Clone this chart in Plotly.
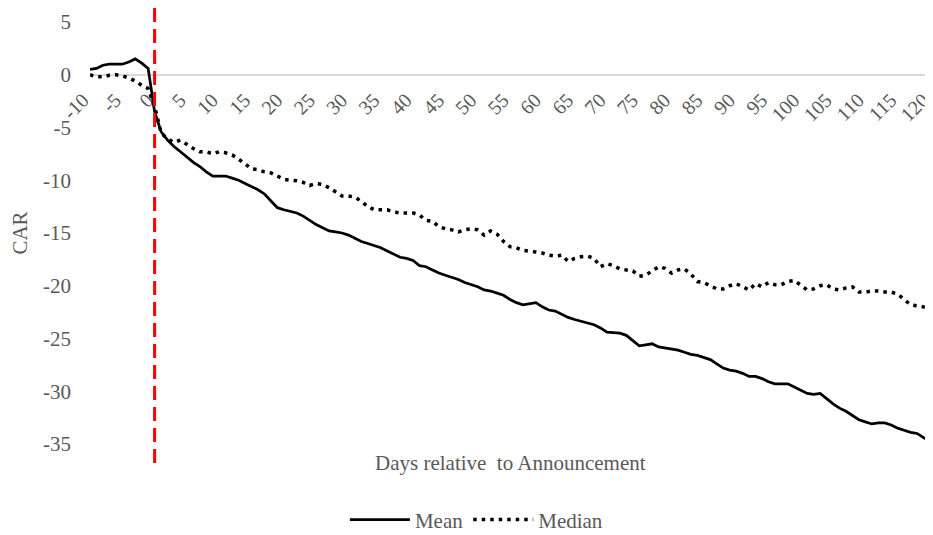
import plotly.graph_objects as go

days = list(range(-10, 121))

mean_car = [
    0.5, 0.6, 0.9, 1.0, 1.0, 1.0, 1.2, 1.5, 1.1, 0.6,          # -10..-1
    -3.5, -5.4, -6.2, -6.8, -7.3, -7.8, -8.3, -8.7, -9.2, -9.6,  # 0..9
    -9.6, -9.6, -9.8, -10.0, -10.3, -10.6, -10.9, -11.3, -12.0, -12.6,  # 10..19
    -12.8, -12.95, -13.1, -13.4, -13.8, -14.2, -14.5, -14.8, -14.9, -15.0,  # 20..29
    -15.2, -15.5, -15.8, -16.0, -16.2, -16.4, -16.7, -17.0, -17.3, -17.4,  # 30..39
    -17.6, -18.1, -18.2, -18.5, -18.8, -19.0, -19.2, -19.4, -19.7, -19.9,  # 40..49
    -20.1, -20.4, -20.5, -20.7, -20.9, -21.3, -21.6, -21.8, -21.7, -21.6,  # 50..59
    -22.0, -22.3, -22.4, -22.7, -23.0, -23.2, -23.35, -23.5, -23.7, -24.0,  # 60..69
    -24.4, -24.45, -24.5, -24.7, -25.2, -25.7, -25.6, -25.5, -25.8, -25.9,  # 70..79
    -26.0, -26.1, -26.3, -26.5, -26.6, -26.8, -27.0, -27.4, -27.8, -28.0,  # 80..89
    -28.1, -28.3, -28.6, -28.6, -28.8, -29.1, -29.3, -29.3, -29.3, -29.6,  # 90..99
    -29.9, -30.2, -30.3, -30.2, -30.7, -31.2, -31.6, -31.9, -32.3, -32.7,  # 100..109
    -32.9, -33.1, -33.0, -33.0, -33.2, -33.5, -33.7, -33.9, -34.0, -34.4,  # 110..119
    -34.7,                                                       # 120
]

median_car = [
    0.0, -0.2, -0.2, -0.05, 0.0, -0.1, -0.3, -0.6, -1.0, -1.3,   # -10..-1
    -3.0, -5.5, -6.1, -6.4, -6.2, -6.6, -7.0, -7.3, -7.3, -7.5,  # 0..9
    -7.3, -7.4, -7.6, -8.0, -8.5, -8.9, -9.0, -9.2, -9.3, -9.6,  # 10..19
    -9.9, -10.0, -10.05, -10.2, -10.5, -10.3, -10.4, -10.7, -11.1, -11.5,  # 20..29
    -11.5, -11.6, -12.0, -12.5, -12.8, -12.8, -12.8, -13.0, -13.1, -13.1,  # 30..39
    -13.1, -13.3, -13.8, -13.9, -14.4, -14.6, -14.7, -14.9, -14.7, -14.6,  # 40..49
    -14.7, -15.2, -14.8, -15.1, -15.8, -16.3, -16.4, -16.65, -16.7, -16.8,  # 50..59
    -16.9, -17.1, -17.2, -17.1, -17.7, -17.4, -17.25, -17.2, -17.4, -18.2,  # 60..69
    -17.9, -18.1, -18.4, -18.5, -18.6, -19.1, -19.0, -18.6, -18.2, -18.35,  # 70..79
    -18.8, -18.5, -18.4, -18.9, -19.6, -19.7, -20.0, -20.3, -20.3, -20.0,  # 80..89
    -19.8, -20.1, -20.4, -19.8, -20.1, -19.7, -19.9, -19.9, -19.6, -19.5,  # 90..99
    -20.0, -20.4, -20.3, -20.0, -19.9, -20.3, -20.4, -20.2, -20.1, -20.6,  # 100..109
    -20.6, -20.5, -20.5, -20.6, -20.6, -20.8, -21.3, -21.8, -21.9, -22.0,  # 110..119
    -22.2,                                                       # 120
]

x_tick_vals = list(range(-10, 121, 5))
x_tick_text = [str(v) for v in x_tick_vals]
y_tick_vals = [5, 0, -5, -10, -15, -20, -25, -30, -35]
y_tick_text = [str(v) for v in y_tick_vals]

FONT = "Liberation Serif"
GRAY = "#595959"

fig = go.Figure()
fig.add_trace(go.Scatter(
    x=days, y=mean_car, mode="lines", name="Mean",
    line=dict(color="black", width=2.75),
))
fig.add_trace(go.Scatter(
    x=days, y=median_car, mode="lines", name="Median",
    line=dict(color="black", width=3.5, dash="3.5px,5px"),
))

# event line at day 0
fig.add_shape(type="line", xref="x", yref="paper", x0=0, x1=0, y0=1.033, y1=-0.055,
              line=dict(color="#ff0000", width=3, dash="14px,7px"), layer="above")

fig.add_annotation(text="Days relative  to Announcement", xref="paper", yref="paper",
                   x=0.5, y=-0.012, xanchor="center", yanchor="top", showarrow=False,
                   font=dict(family=FONT, size=21, color=GRAY))

# page body has an 8px margin, so the figure is offset by 8px in the window
fig.update_layout(
    template="none",
    width=925, height=527,
    margin=dict(l=82, r=3, t=14, b=91, autoexpand=False),
    paper_bgcolor="white", plot_bgcolor="white",
    font=dict(family=FONT, size=21, color=GRAY),
    showlegend=True,
    legend=dict(orientation="h", x=0.46, y=-0.18, xanchor="center", yanchor="middle",
                font=dict(family=FONT, size=21, color=GRAY), itemwidth=60,
                bgcolor="rgba(0,0,0,0)"),
)
fig.update_xaxes(
    range=[-10, 120], tickmode="array", tickvals=x_tick_vals, ticktext=x_tick_text,
    tickangle=-45, anchor="free", position=0.875, showgrid=False, zeroline=False,
    showline=True, linecolor="#d9d9d9", linewidth=1.5, ticks="", layer="below traces",
    automargin=False, ticklabeloverflow="allow", ticklabelshift=-7, ticklabelstandoff=5,
    tickfont=dict(family=FONT, size=20, color=GRAY),
)
fig.update_yaxes(
    range=[-35, 5], tickmode="array", tickvals=y_tick_vals, ticktext=y_tick_text,
    showgrid=False, zeroline=False, showline=False, ticks="", ticklabelstandoff=18,
    automargin=False,
    tickfont=dict(family=FONT, size=21, color=GRAY),
    title=dict(text="CAR", standoff=19, font=dict(family=FONT, size=21, color=GRAY)),
)

fig.write_html("out.html")
